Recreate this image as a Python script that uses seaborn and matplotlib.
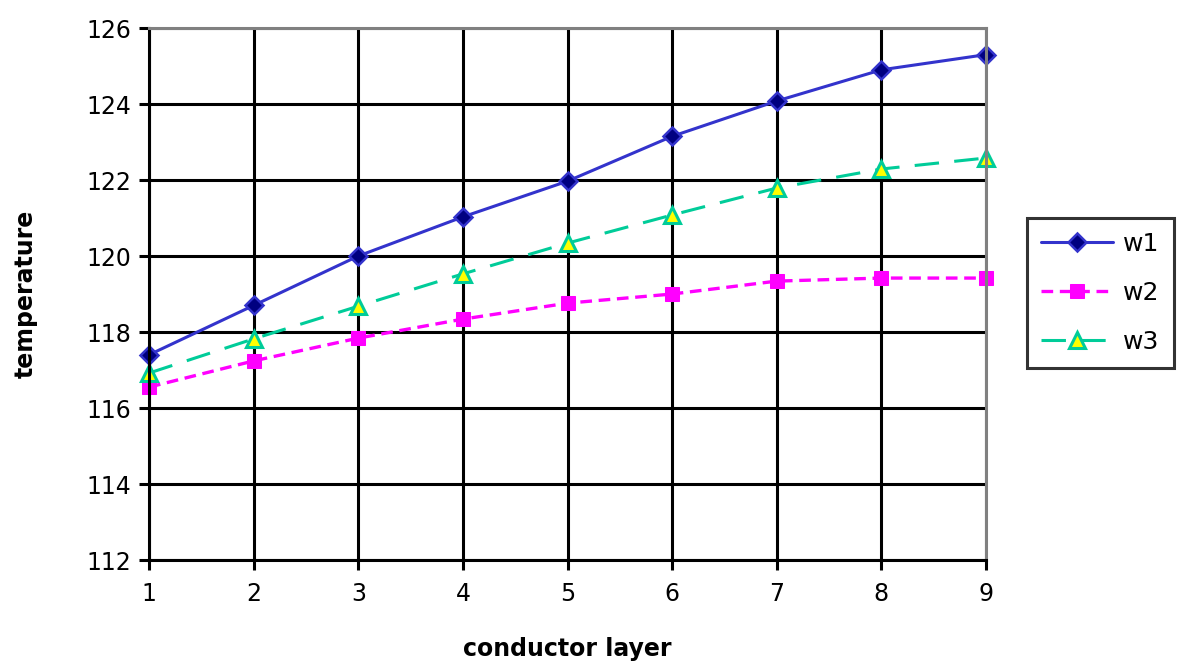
import matplotlib
matplotlib.use("Agg")
import matplotlib.pyplot as plt
import seaborn as sns
import pandas as pd

layers = [1, 2, 3, 4, 5, 6, 7, 8, 9]
w1 = [117.4, 118.7, 120.0, 121.03, 121.97, 123.15, 124.08, 124.9, 125.3]
w2 = [116.55, 117.24, 117.84, 118.34, 118.76, 119.0, 119.34, 119.42, 119.42]
w3 = [116.92, 117.82, 118.68, 119.53, 120.34, 121.08, 121.79, 122.29, 122.58]
y_ticks = [112, 114, 116, 118, 120, 122, 124, 126]

sns.set_style("white", {"xtick.bottom": True, "ytick.left": True,
                        "text.color": "black", "axes.labelcolor": "black",
                        "xtick.color": "black", "ytick.color": "black"})
plt.rcParams["font.family"] = ["DejaVu Sans"]

fig = plt.figure(figsize=(11.8, 6.69), dpi=100)
ax = fig.add_axes([0.1263, 0.1629, 0.8356 - 0.1263, 0.9581 - 0.1629])

df = pd.DataFrame({"layer": layers, "w1": w1, "w2": w2, "w3": w3})

sns.lineplot(data=df, x="layer", y="w1", ax=ax, color="#3333CC", lw=2.2,
             marker="D", markersize=9.5, markerfacecolor="#000080",
             markeredgecolor="#3333CC", markeredgewidth=1.8, label="w1")
sns.lineplot(data=df, x="layer", y="w2", ax=ax, color="#FF00FF", lw=2.4,
             dashes=(3.5, 2), marker="s", markersize=10,
             markerfacecolor="#FF00FF", markeredgecolor="#FF00FF",
             label="w2")
sns.lineplot(data=df, x="layer", y="w3", ax=ax, color="#00CC99", lw=2.2,
             dashes=(8, 5), marker="^", markersize=12,
             markerfacecolor="#FFFF00", markeredgecolor="#00CC99",
             markeredgewidth=2.2, label="w3")

ax.set_xlim(1, 9)
ax.set_ylim(112, 126)
ax.set_xticks(layers)
ax.set_yticks(y_ticks)
ax.grid(True, color="black", lw=2.2)
ax.set_axisbelow(True)
for side in ("left", "bottom"):
    ax.spines[side].set_color("black")
    ax.spines[side].set_linewidth(2.2)
for side in ("top", "right"):
    ax.spines[side].set_color("#808080")
    ax.spines[side].set_linewidth(2.2)

ax.tick_params(axis="both", labelsize=17, direction="out", length=7,
               width=2.2, color="black", labelcolor="black")
ax.tick_params(axis="x", pad=9)
ax.tick_params(axis="y", pad=6)
for line in ax.get_lines():
    line.set_clip_on(False)

ax.set_xlabel("conductor layer", fontsize=17, fontweight="bold",
              labelpad=22, color="black")
ax.set_ylabel("temperature", fontsize=17, fontweight="bold",
              labelpad=35, color="black")

leg = ax.legend(loc="upper left", bbox_to_anchor=(1.049, 0.642),
                fontsize=18, frameon=True, fancybox=False, handlelength=2.9,
                borderpad=0.55, labelspacing=1.0, handletextpad=0.4,
                borderaxespad=0)
leg.get_frame().set_edgecolor("black")
leg.get_frame().set_linewidth(2.2)
for t in leg.get_texts():
    t.set_color("black")

fig.savefig("out.png", dpi=100)
